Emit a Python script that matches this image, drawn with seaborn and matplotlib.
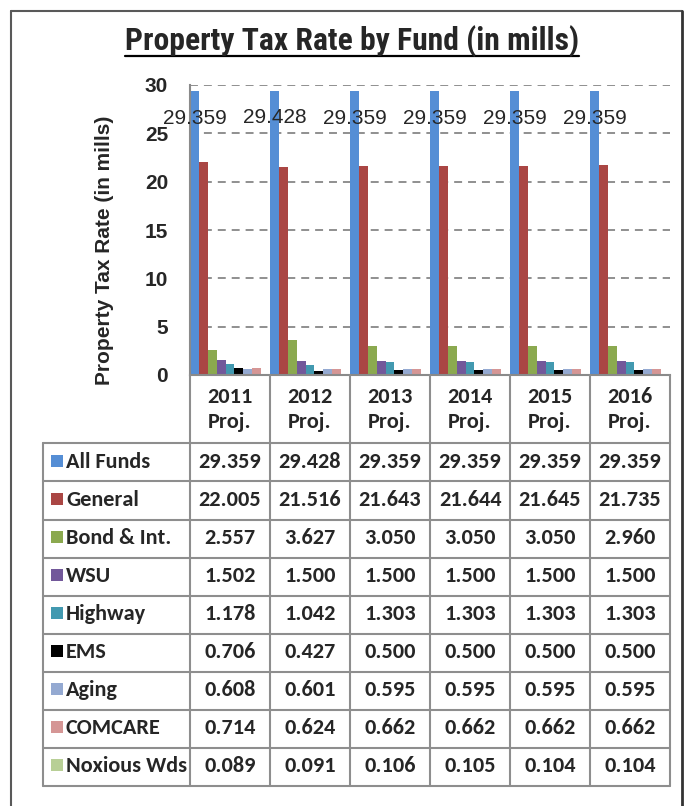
import matplotlib
matplotlib.use("Agg")
import matplotlib.pyplot as plt
from matplotlib.lines import Line2D
from matplotlib.patches import Rectangle
from matplotlib import font_manager as fm
import seaborn as sns
import pandas as pd

# ---------------- data ----------------
categories = ["2011 Proj.", "2012 Proj.", "2013 Proj.", "2014 Proj.", "2015 Proj.", "2016 Proj."]
funds = ["All Funds", "General", "Bond & Int.", "WSU", "Highway", "EMS", "Aging", "COMCARE", "Noxious Wds"]
all_funds = [29.359, 29.428, 29.359, 29.359, 29.359, 29.359]
general = [22.005, 21.516, 21.643, 21.644, 21.645, 21.735]
bond_int = [2.557, 3.627, 3.050, 3.050, 3.050, 2.960]
wsu = [1.502, 1.500, 1.500, 1.500, 1.500, 1.500]
highway = [1.178, 1.042, 1.303, 1.303, 1.303, 1.303]
ems = [0.706, 0.427, 0.500, 0.500, 0.500, 0.500]
aging = [0.608, 0.601, 0.595, 0.595, 0.595, 0.595]
comcare = [0.714, 0.624, 0.662, 0.662, 0.662, 0.662]
noxious = [0.089, 0.091, 0.106, 0.105, 0.104, 0.104]
series = [all_funds, general, bond_int, wsu, highway, ems, aging, comcare, noxious]
colors = ["#558ED5", "#AA4644", "#8BA94F", "#72589A", "#4299B0",
          "#000000", "#94A9D1", "#D59695", "#B8CF96"]
y_ticks = [0, 5, 10, 15, 20, 25, 30]

rows = []
for f, vals in zip(funds, series):
    for c, v in zip(categories, vals):
        rows.append({"Year": c, "Fund": f, "Rate": v})
df = pd.DataFrame(rows)

# ---------------- style ----------------
sns.set_theme(style="white")
plt.rcParams["font.family"] = ["Liberation Sans", "DejaVu Sans"]

# table font: Calibri-like if available, else Lato heavy
try:
    fm.findfont(fm.FontProperties(family="Carlito", weight="bold"), fallback_to_default=False)
    tfont, tweight, tsize = "Carlito", "bold", 16.0
except Exception:
    tfont, tweight, tsize = "Lato", 800, 14.2

W, H = 685, 806
def fx(px):
    return px / W
def fy(py):
    return 1 - py / H

fig = plt.figure(figsize=(W / 100, H / 100), dpi=100)
fig.patch.set_facecolor("white")

ax = fig.add_axes([fx(190), fy(375), 480 / W, 290 / H])
sns.barplot(data=df, x="Year", y="Rate", hue="Fund", order=categories,
            hue_order=funds, palette=colors, width=1.0, saturation=1,
            linewidth=0, errorbar=None, legend=False, ax=ax)
ax.set_xlim(-0.5, len(categories) - 0.5)
ax.set_ylim(0, 30)
ax.set_yticks(y_ticks, [str(t) for t in y_ticks], fontweight="bold",
              fontsize=15, family="Liberation Sans")
ax.set_xticks([])
ax.set_xlabel("")
ax.set_ylabel("")
ax.set_axisbelow(True)
ax.yaxis.grid(True, linestyle=(0, (4.4, 3.3)), color="#878787", linewidth=1.3)
ax.tick_params(axis="y", length=0, pad=15.8)
for s in ["top", "right"]:
    ax.spines[s].set_visible(False)
for s in ["left", "bottom"]:
    ax.spines[s].set_color("#8a8a8a")
    ax.spines[s].set_linewidth(1.5)

# data labels on "All Funds" bars
for patch, val in zip(ax.containers[0], all_funds):
    xc = patch.get_x() + patch.get_width() / 2
    ax.annotate(f"{val:.3f}", (xc, val), xytext=(0, -19.5), textcoords="offset points",
                ha="center", va="center", fontsize=15, family="Liberation Sans",
                zorder=6, annotation_clip=False)

# y label
fig.text(fx(105), fy(250), "Property Tax Rate (in mills)", rotation=90,
         ha="center", va="center", fontsize=15, fontweight="bold",
         family="Liberation Sans")

# title (condensed bold), fitted to the reference width, then underlined
title = fig.text(fx(352), fy(50), "Property Tax Rate by Fund (in mills)",
                 ha="center", va="baseline", fontsize=24, fontweight="bold",
                 family="Roboto Condensed")
fig.canvas.draw()
rend = fig.canvas.get_renderer()
bb = title.get_window_extent(rend)
title.set_fontsize(24 * 456 / bb.width)

# ---------------- data table ----------------
inv = fig.transFigure.inverted()
def data_x_to_fig(xd):
    return inv.transform(ax.transData.transform((xd, 0)))[0]

bounds = [data_x_to_fig(i - 0.5) for i in range(len(categories) + 1)]
grid_col = "#8e8e8e"
lw_t = 1.5
hdr_top, hdr_bot, row_h = 375, 443.5, 38.0
tbl_left = fx(43)
n_rows = len(funds)
tbl_bot = hdr_bot + row_h * n_rows

def fline(x0, y0, x1, y1, **kw):
    fig.add_artist(Line2D([x0, x1], [y0, y1], transform=fig.transFigure, **kw))

for b in bounds:
    fline(b, fy(hdr_top), b, fy(hdr_bot), color=grid_col, lw=lw_t)
for b in [tbl_left] + bounds:
    fline(b, fy(hdr_bot), b, fy(tbl_bot), color=grid_col, lw=lw_t)
for k in range(n_rows + 1):
    yy = fy(hdr_bot + row_h * k)
    fline(tbl_left, yy, bounds[-1], yy, color=grid_col, lw=lw_t)

for i, c in enumerate(categories):
    fig.text((bounds[i] + bounds[i + 1]) / 2, fy((hdr_top + hdr_bot) / 2 + 0.5),
             c.replace(" ", "\n"), ha="center", va="center", fontsize=tsize,
             fontweight=tweight, family=tfont, linespacing=1.3)

for r, (f, vals, col) in enumerate(zip(funds, series, colors)):
    yc = hdr_bot + row_h * r + row_h / 2
    fig.add_artist(Rectangle((fx(51), fy(yc + 4)), 12 / W, 12 / H,
                             transform=fig.transFigure, facecolor=col, edgecolor="none"))
    fig.text(fx(66), fy(yc), f, ha="left", va="center", fontsize=tsize,
             fontweight=tweight, family=tfont)
    for i, v in enumerate(vals):
        fig.text((bounds[i] + bounds[i + 1]) / 2, fy(yc), f"{v:.3f}", ha="center",
                 va="center", fontsize=tsize, fontweight=tweight, family=tfont)

# outer border
bcol = "#595959"
fline(fx(11), fy(10.5), fx(681.5), fy(10.5), color=bcol, lw=1.5)
fline(fx(11), fy(10.5), fx(11), fy(806), color=bcol, lw=1.5)
fline(fx(681.5), fy(10.5), fx(681.5), fy(806), color="#333333", lw=2)

# underline title
fig.canvas.draw()
bb = title.get_window_extent(fig.canvas.get_renderer())
x0, _ = inv.transform((bb.x0, bb.y0))
x1, _ = inv.transform((bb.x1, bb.y0))
fline(x0, fy(55.5), x1, fy(55.5), color="black", lw=1.6)

fig.savefig("out.png", dpi=100, facecolor="white")
